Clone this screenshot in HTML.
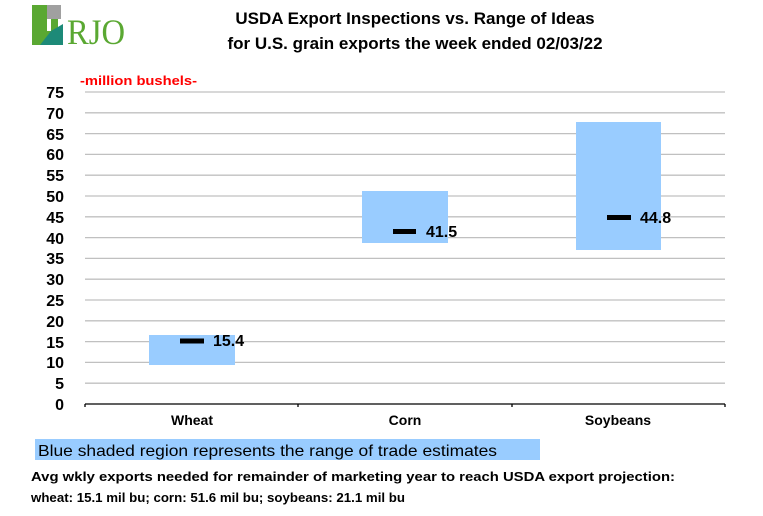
<!DOCTYPE html>
<html><head><meta charset="utf-8"><style>
html,body{margin:0;padding:0;background:#fff;}
svg{display:block;font-family:"Liberation Sans",Arial,sans-serif;}
</style></head><body>
<svg width="763" height="516" viewBox="0 0 763 516" xmlns="http://www.w3.org/2000/svg">
<rect x="32" y="5" width="26" height="40" fill="#5aa832"/>
<rect x="47" y="5" width="14" height="14" fill="#a0a0a0"/>
<rect x="47" y="19" width="4" height="12" fill="#fff"/>
<polygon points="40,45 51,31 63,24 63,45" fill="#1d8a78"/>
<text x="67" y="44" font-family="Liberation Serif,serif" font-size="36" fill="#5aa832" textLength="58" lengthAdjust="spacingAndGlyphs">RJO</text>
<text x="415" y="24" text-anchor="middle" font-size="17" font-weight="bold" fill="#000">USDA Export Inspections vs. Range of Ideas</text>
<text x="415" y="49" text-anchor="middle" font-size="17" font-weight="bold" fill="#000">for U.S. grain exports the week ended 02/03/22</text>
<text x="80" y="85" font-size="13" font-weight="bold" fill="#ff0000" textLength="117" lengthAdjust="spacingAndGlyphs">-million bushels-</text>
<g stroke="#c0c0c0" stroke-width="1.3">
<line x1="85" x2="725" y1="92" y2="92"/><line x1="85" x2="725" y1="112.8" y2="112.8"/><line x1="85" x2="725" y1="133.6" y2="133.6"/><line x1="85" x2="725" y1="154.4" y2="154.4"/><line x1="85" x2="725" y1="175.2" y2="175.2"/><line x1="85" x2="725" y1="196" y2="196"/><line x1="85" x2="725" y1="216.8" y2="216.8"/><line x1="85" x2="725" y1="237.6" y2="237.6"/><line x1="85" x2="725" y1="258.4" y2="258.4"/><line x1="85" x2="725" y1="279.2" y2="279.2"/><line x1="85" x2="725" y1="300" y2="300"/><line x1="85" x2="725" y1="320.8" y2="320.8"/><line x1="85" x2="725" y1="341.6" y2="341.6"/><line x1="85" x2="725" y1="362.4" y2="362.4"/><line x1="85" x2="725" y1="383.2" y2="383.2"/>
</g>
<g font-size="16" font-weight="bold" text-anchor="end" fill="#000">
<text x="64" y="98">75</text><text x="64" y="119">70</text><text x="64" y="140">65</text><text x="64" y="160">60</text><text x="64" y="181">55</text><text x="64" y="202">50</text><text x="64" y="223">45</text><text x="64" y="244">40</text><text x="64" y="264">35</text><text x="64" y="285">30</text><text x="64" y="306">25</text><text x="64" y="327">20</text><text x="64" y="348">15</text><text x="64" y="368">10</text><text x="64" y="389">5</text><text x="64" y="410">0</text>
</g>
<rect x="149" y="335" width="86" height="30" fill="#99ccff"/>
<rect x="362" y="191" width="86" height="52" fill="#99ccff"/>
<rect x="576" y="122" width="85" height="128" fill="#99ccff"/>
<g fill="#000">
<rect x="180" y="338.5" width="24" height="5"/>
<rect x="393" y="229" width="23" height="5"/>
<rect x="607" y="215" width="24" height="5"/>
</g>
<g font-size="16" font-weight="bold" fill="#000">
<text x="213" y="346">15.4</text>
<text x="426" y="237">41.5</text>
<text x="640" y="223">44.8</text>
</g>
<g stroke="#000" stroke-width="1.3">
<line x1="85" x2="725" y1="404" y2="404"/>
<line x1="85" x2="85" y1="404" y2="407"/><line x1="298" x2="298" y1="404" y2="407"/><line x1="512" x2="512" y1="404" y2="407"/><line x1="725" x2="725" y1="404" y2="407"/>
</g>
<g font-size="14" font-weight="bold" text-anchor="middle" fill="#000">
<text x="192" y="425">Wheat</text><text x="405" y="425">Corn</text><text x="618" y="425">Soybeans</text>
</g>
<rect x="35" y="439" width="505" height="21" fill="#99ccff"/>
<text x="38" y="456" font-size="16" fill="#000" textLength="459" lengthAdjust="spacingAndGlyphs">Blue shaded region represents the range of trade estimates</text>
<text x="31" y="481" font-size="13" font-weight="bold" fill="#000" textLength="644" lengthAdjust="spacingAndGlyphs">Avg wkly exports needed for remainder of marketing year to reach USDA export projection:</text>
<text x="31" y="502" font-size="13" font-weight="bold" fill="#000" textLength="374" lengthAdjust="spacingAndGlyphs">wheat: 15.1 mil bu; corn: 51.6 mil bu; soybeans: 21.1 mil bu</text>
</svg>
</body></html>
